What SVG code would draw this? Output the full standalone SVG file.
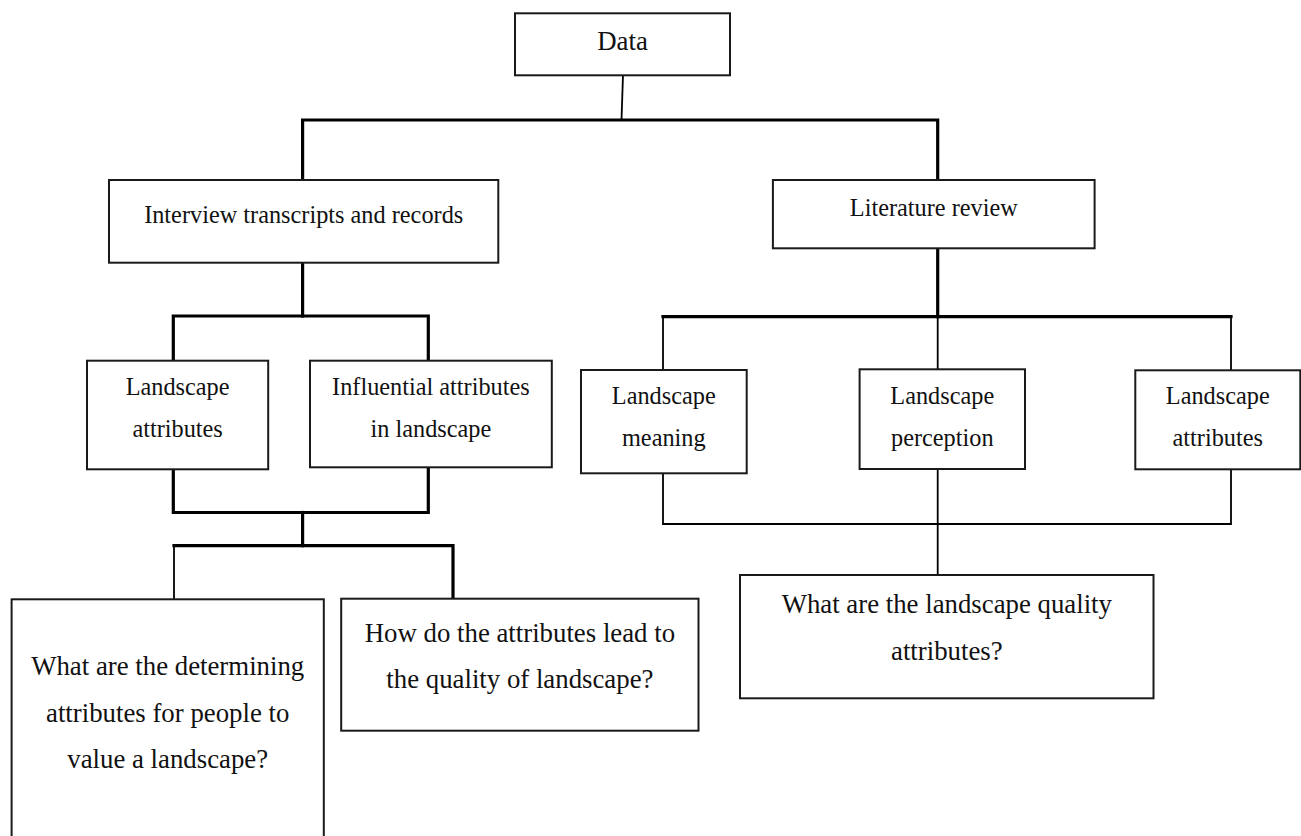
<svg xmlns="http://www.w3.org/2000/svg" width="1301" height="836" viewBox="0 0 1301 836">
<style>
.box{fill:#fff;stroke:#1a1a1a;stroke-width:2}
.thick{fill:none;stroke:#000;stroke-width:3.2;stroke-linejoin:miter;stroke-linecap:square}
.thin{fill:none;stroke:#000;stroke-width:1.8;stroke-linecap:butt}
text{font-family:"Liberation Serif","Times New Roman",serif;fill:#111;text-anchor:middle}
.m{font-size:24.3px}
.q{font-size:26.8px}
</style>
<rect width="1301" height="836" fill="#fff"/>
<g id="connectors">
<line class="thin" x1="623" y1="75" x2="621.5" y2="120"/>
<path class="thick" d="M302.6,180 V120 H937.7 V180"/>
<line class="thick" x1="302.6" y1="262.7" x2="302.6" y2="316"/>
<path class="thick" d="M173.3,360.7 V316 H428.3 V360.7"/>
<path class="thick" d="M173.3,469.3 V512.5 H428.3 V467.3"/>
<line class="thick" x1="302.6" y1="512.5" x2="302.6" y2="545.7"/>
<path class="thick" d="M174,545.7 H453 V598.7"/>
<line class="thin" x1="174" y1="545.7" x2="174" y2="599.3"/>
<line class="thick" x1="937.7" y1="248.3" x2="937.7" y2="316.7"/>
<line class="thick" x1="663" y1="316.7" x2="1231" y2="316.7"/>
<line class="thin" x1="663" y1="316.7" x2="663" y2="370"/>
<line class="thin" x1="937.7" y1="316.7" x2="937.7" y2="369.3"/>
<line class="thin" x1="1231" y1="316.7" x2="1231" y2="370.3"/>
<path class="thin" d="M663,473.3 V524 H1231 V469.3"/>
<line class="thin" x1="937.7" y1="469" x2="937.7" y2="575"/>
</g>
<g id="data">
<rect class="box" x="515" y="13.3" width="215" height="62"/>
<text class="q" x="622.5" y="50">Data</text>
</g>
<g id="interview">
<rect class="box" x="109" y="180" width="389.3" height="82.7"/>
<text class="m" x="303.7" y="222.7">Interview transcripts and records</text>
</g>
<g id="literature">
<rect class="box" x="772.9" y="180" width="321.7" height="68.3"/>
<text class="m" x="933.8" y="216">Literature review</text>
</g>
<g id="landscape-attributes-left">
<rect class="box" x="87" y="360.7" width="181.2" height="108.6"/>
<text class="m" x="177.6" y="395">Landscape</text>
<text class="m" x="177.6" y="436.7">attributes</text>
</g>
<g id="influential">
<rect class="box" x="310" y="360.7" width="241.8" height="106.6"/>
<text class="m" x="430.9" y="395">Influential attributes</text>
<text class="m" x="430.9" y="436.7">in landscape</text>
</g>
<g id="meaning">
<rect class="box" x="581" y="370" width="165.7" height="103.3"/>
<text class="m" x="663.8" y="404">Landscape</text>
<text class="m" x="663.8" y="445.7">meaning</text>
</g>
<g id="perception">
<rect class="box" x="859.6" y="369.3" width="165.4" height="99.7"/>
<text class="m" x="942.3" y="404">Landscape</text>
<text class="m" x="942.3" y="445.7">perception</text>
</g>
<g id="landscape-attributes-right">
<rect class="box" x="1135.3" y="370.3" width="165" height="99"/>
<text class="m" x="1217.8" y="404">Landscape</text>
<text class="m" x="1217.8" y="445.7">attributes</text>
</g>
<g id="q-determining">
<rect class="box" x="11.6" y="599.3" width="312.2" height="260"/>
<text class="q" x="167.7" y="675">What are the determining</text>
<text class="q" x="167.7" y="721.7">attributes for people to</text>
<text class="q" x="167.7" y="768.3">value a landscape?</text>
</g>
<g id="q-how">
<rect class="box" x="341.2" y="598.7" width="357.3" height="132"/>
<text class="q" x="519.9" y="641.7">How do the attributes lead to</text>
<text class="q" x="519.9" y="688.3">the quality of landscape?</text>
</g>
<g id="q-quality">
<rect class="box" x="740" y="575" width="413.5" height="123.3"/>
<text class="q" x="946.8" y="613.3">What are the landscape quality</text>
<text class="q" x="946.8" y="660">attributes?</text>
</g>
</svg>
